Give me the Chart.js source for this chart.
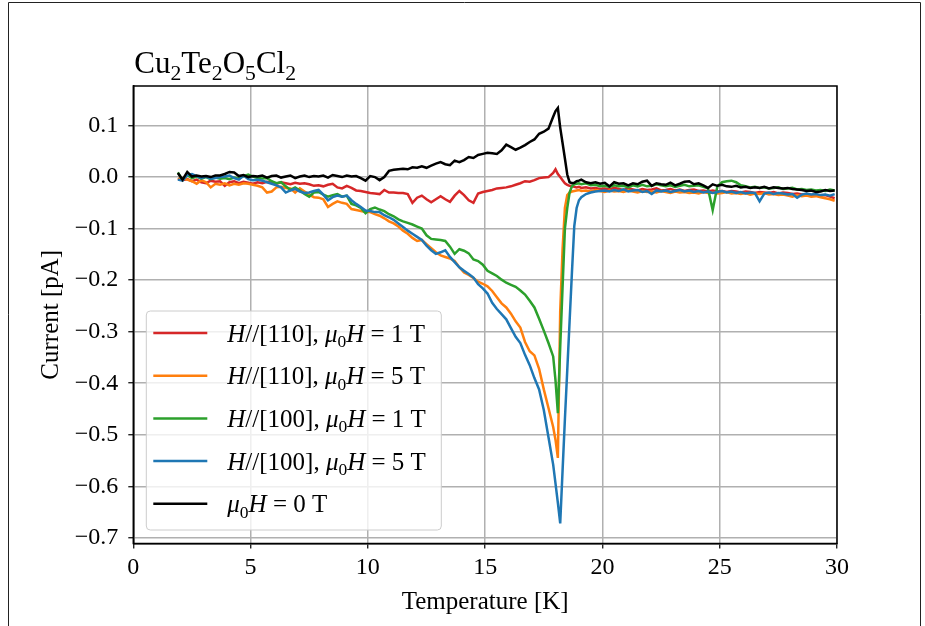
<!DOCTYPE html>
<html>
<head>
<meta charset="utf-8">
<script src="https://cdn.jsdelivr.net/npm/chart.js@4.4.1/dist/chart.umd.min.js"></script>
<style>
  html, body { margin: 0; padding: 0; background: #ffffff; }
  #wrap { position: relative; width: 925px; height: 626px; }
  canvas { display: block; }
</style>
</head>
<body>
<div id="wrap"><canvas id="chart" width="925" height="626"></canvas></div>
<script>
// Temperature grid of the pyrocurrent sweeps [K] (denser around the 18 K transition)
const temperatures = [
  1.9, 2.1, 2.3, 2.5, 2.7, 2.9, 3.1, 3.3, 3.5, 3.7,
  3.9, 4.1, 4.3, 4.5, 4.7, 4.9, 5.1, 5.3, 5.5, 5.7,
  5.9, 6.1, 6.3, 6.5, 6.7, 6.9, 7.1, 7.3, 7.5, 7.7,
  7.9, 8.1, 8.3, 8.5, 8.7, 8.9, 9.1, 9.3, 9.5, 9.7,
  9.9, 10.1, 10.3, 10.5, 10.7, 10.9, 11.1, 11.3, 11.5, 11.7,
  11.9, 12.1, 12.3, 12.5, 12.7, 12.9, 13.1, 13.3, 13.5, 13.7,
  13.9, 14.1, 14.3, 14.5, 14.7, 14.9, 15.1, 15.3, 15.5, 15.7,
  15.9, 16.1, 16.3, 16.5, 16.7, 16.9, 17.1, 17.3, 17.5, 17.7,
  17.9, 18.0, 18.1, 18.2, 18.3, 18.4, 18.5, 18.6, 18.7, 18.8,
  18.9, 19.0, 19.1, 19.3, 19.5, 19.7, 19.9, 20.1, 20.3, 20.5,
  20.7, 20.9, 21.1, 21.3, 21.5, 21.7, 21.9, 22.1, 22.3, 22.5,
  22.7, 22.9, 23.1, 23.3, 23.5, 23.7, 23.9, 24.1, 24.3, 24.5,
  24.7, 24.9, 25.1, 25.3, 25.5, 25.7, 25.9, 26.1, 26.3, 26.5,
  26.7, 26.9, 27.1, 27.3, 27.5, 27.7, 27.9, 28.1, 28.3, 28.5,
  28.7, 28.9, 29.1, 29.3, 29.5, 29.7, 29.9
];

// Current [pA], H // [110], 1 T
const currentH110_1T = [
  -0.003, -0.006, -0.004, -0.008, -0.005, -0.010, -0.012, -0.007, -0.009, -0.008,
  -0.017, -0.010, -0.008, -0.012, -0.009, -0.011, -0.013, -0.010, -0.012, -0.009,
  -0.011, -0.013, -0.010, -0.012, -0.014, -0.011, -0.013, -0.012, -0.014, -0.017,
  -0.016, -0.018, -0.015, -0.013, -0.020, -0.022, -0.017, -0.021, -0.026, -0.027,
  -0.029, -0.031, -0.032, -0.033, -0.025, -0.030, -0.030, -0.031, -0.031, -0.033,
  -0.050, -0.040, -0.036, -0.043, -0.049, -0.043, -0.037, -0.043, -0.048, -0.036,
  -0.027, -0.035, -0.045, -0.050, -0.032, -0.029, -0.027, -0.025, -0.022, -0.021,
  -0.020, -0.018, -0.015, -0.012, -0.008, -0.009, -0.006, -0.002, -0.001, 0.000,
  0.008, 0.015, 0.006, 0.000, -0.006, -0.012, -0.015, -0.017, -0.018, -0.019,
  -0.020, -0.019, -0.021, -0.020, -0.022, -0.021, -0.023, -0.022, -0.024, -0.021,
  -0.023, -0.025, -0.022, -0.024, -0.026, -0.023, -0.025, -0.024, -0.022, -0.026,
  -0.025, -0.023, -0.026, -0.024, -0.027, -0.025, -0.024, -0.027, -0.026, -0.028,
  -0.026, -0.028, -0.027, -0.029, -0.027, -0.028, -0.030, -0.028, -0.029, -0.031,
  -0.029, -0.030, -0.031, -0.029, -0.032, -0.030, -0.031, -0.033, -0.032, -0.034,
  -0.033, -0.035, -0.034, -0.036, -0.035, -0.038, -0.041
];

// Current [pA], H // [110], 5 T
const currentH110_5T = [
  -0.004, -0.002, -0.005, -0.008, -0.013, -0.006, -0.010, -0.020, -0.013, -0.015,
  -0.012, -0.016, -0.013, -0.015, -0.012, -0.013, -0.015, -0.017, -0.020, -0.030,
  -0.028, -0.020, -0.019, -0.021, -0.022, -0.030, -0.022, -0.028, -0.034, -0.039,
  -0.040, -0.043, -0.058, -0.052, -0.047, -0.050, -0.052, -0.062, -0.064, -0.066,
  -0.068, -0.068, -0.072, -0.075, -0.080, -0.086, -0.090, -0.096, -0.104, -0.110,
  -0.118, -0.124, -0.122, -0.130, -0.138, -0.146, -0.152, -0.155, -0.158, -0.163,
  -0.175, -0.185, -0.190, -0.196, -0.203, -0.207, -0.212, -0.221, -0.233, -0.245,
  -0.253, -0.265, -0.280, -0.292, -0.320, -0.338, -0.346, -0.372, -0.412, -0.448,
  -0.485, -0.510, -0.545, -0.260, -0.140, -0.060, -0.035, -0.030, -0.028, -0.027,
  -0.026, -0.025, -0.027, -0.026, -0.028, -0.025, -0.027, -0.029, -0.026, -0.028,
  -0.027, -0.029, -0.026, -0.028, -0.030, -0.027, -0.029, -0.028, -0.030, -0.027,
  -0.029, -0.031, -0.028, -0.030, -0.029, -0.031, -0.030, -0.032, -0.029, -0.031,
  -0.030, -0.032, -0.031, -0.029, -0.032, -0.031, -0.033, -0.031, -0.034, -0.032,
  -0.033, -0.031, -0.034, -0.033, -0.035, -0.034, -0.036, -0.038, -0.035, -0.037,
  -0.036, -0.038, -0.037, -0.039, -0.041, -0.043, -0.046
];

// Current [pA], H // [100], 1 T
const currentH100_1T = [
  0.009, -0.006, 0.004, -0.002, 0.001, -0.003, 0.000, -0.004, -0.001, -0.003,
  -0.002, -0.004, -0.001, -0.003, 0.002, 0.005, 0.001, -0.002, -0.003, -0.002,
  -0.008, -0.012, -0.010, -0.018, -0.025, -0.020, -0.026, -0.033, -0.038, -0.030,
  -0.029, -0.034, -0.038, -0.035, -0.033, -0.038, -0.036, -0.052, -0.055, -0.060,
  -0.070, -0.062, -0.059, -0.063, -0.066, -0.072, -0.076, -0.082, -0.086, -0.089,
  -0.092, -0.096, -0.100, -0.113, -0.120, -0.121, -0.122, -0.124, -0.135, -0.149,
  -0.140, -0.143, -0.148, -0.160, -0.163, -0.170, -0.182, -0.187, -0.192, -0.199,
  -0.205, -0.209, -0.213, -0.220, -0.228, -0.240, -0.253, -0.275, -0.298, -0.322,
  -0.348, -0.395, -0.458, -0.330, -0.214, -0.100, -0.060, -0.030, -0.018, -0.014,
  -0.013, -0.012, -0.014, -0.012, -0.016, -0.015, -0.018, -0.017, -0.019, -0.016,
  -0.018, -0.017, -0.020, -0.016, -0.018, -0.015, -0.018, -0.017, -0.014, -0.016,
  -0.018, -0.016, -0.019, -0.017, -0.015, -0.018, -0.017, -0.016, -0.019, -0.022,
  -0.064, -0.018, -0.010, -0.008, -0.007, -0.010, -0.016, -0.018, -0.020, -0.019,
  -0.021, -0.020, -0.022, -0.021, -0.020, -0.023, -0.022, -0.021, -0.024, -0.023,
  -0.025, -0.024, -0.026, -0.025, -0.027, -0.024, -0.026
];

// Current [pA], H // [100], 5 T
const currentH100_5T = [
  -0.005, -0.007, 0.004, 0.006, 0.002, -0.002, 0.001, -0.003, -0.002, 0.000,
  0.001, 0.003, -0.002, -0.005, 0.003, -0.004, -0.006, -0.005, -0.007, -0.010,
  -0.013, -0.016, -0.020, -0.030, -0.026, -0.023, -0.028, -0.031, -0.030, -0.027,
  -0.025, -0.034, -0.045, -0.039, -0.036, -0.038, -0.036, -0.045, -0.052, -0.058,
  -0.065, -0.066, -0.068, -0.068, -0.074, -0.078, -0.083, -0.090, -0.097, -0.104,
  -0.110, -0.116, -0.122, -0.133, -0.142, -0.149, -0.146, -0.142, -0.155, -0.165,
  -0.175, -0.182, -0.188, -0.195, -0.208, -0.216, -0.226, -0.244, -0.256, -0.266,
  -0.276, -0.293, -0.310, -0.322, -0.345, -0.365, -0.390, -0.412, -0.452, -0.505,
  -0.558, -0.595, -0.632, -0.672, -0.570, -0.470, -0.375, -0.280, -0.185, -0.095,
  -0.060, -0.045, -0.039, -0.033, -0.030, -0.028, -0.027, -0.026, -0.028, -0.025,
  -0.027, -0.024, -0.028, -0.026, -0.025, -0.029, -0.027, -0.033, -0.026, -0.028,
  -0.026, -0.029, -0.027, -0.025, -0.028, -0.026, -0.029, -0.027, -0.030, -0.028,
  -0.031, -0.029, -0.027, -0.030, -0.028, -0.031, -0.029, -0.032, -0.030, -0.031,
  -0.047, -0.032, -0.030, -0.033, -0.031, -0.032, -0.034, -0.033, -0.040, -0.034,
  -0.032, -0.034, -0.033, -0.035, -0.034, -0.036, -0.033
];

// Current [pA], zero field
const currentZeroField = [
  0.008, -0.005, 0.010, 0.001, 0.003, 0.001, 0.002, 0.000, 0.003, 0.003,
  0.006, 0.010, 0.009, 0.002, 0.004, 0.000, 0.002, 0.001, 0.003, -0.001,
  0.002, 0.003, -0.001, 0.001, 0.003, -0.002, 0.001, 0.003, 0.000, 0.002,
  0.001, 0.003, -0.001, 0.004, 0.002, 0.000, 0.003, 0.001, 0.002, -0.002,
  -0.007, 0.002, 0.000, -0.006, 0.000, 0.012, 0.014, 0.015, 0.016, 0.015,
  0.019, 0.018, 0.021, 0.018, 0.022, 0.026, 0.029, 0.025, 0.023, 0.032,
  0.029, 0.033, 0.039, 0.037, 0.043, 0.045, 0.047, 0.046, 0.045, 0.052,
  0.063, 0.058, 0.053, 0.057, 0.062, 0.068, 0.073, 0.084, 0.088, 0.094,
  0.117, 0.128, 0.134, 0.096, 0.066, 0.036, 0.005, -0.010, -0.012, -0.011,
  -0.008, -0.007, -0.005, -0.010, -0.012, -0.010, -0.013, -0.011, -0.018, -0.010,
  -0.013, -0.012, -0.016, -0.012, -0.014, -0.009, -0.007, -0.017, -0.012, -0.014,
  -0.015, -0.011, -0.016, -0.013, -0.009, -0.008, -0.014, -0.012, -0.016, -0.021,
  -0.014, -0.017, -0.015, -0.018, -0.019, -0.017, -0.020, -0.019, -0.021, -0.020,
  -0.021, -0.019, -0.022, -0.020, -0.021, -0.022, -0.021, -0.023, -0.024, -0.025,
  -0.027, -0.026, -0.029, -0.028, -0.025, -0.027, -0.026
];

// Legend entries: *...* = italic, _x = subscript
const seriesLabels = [
  '*H*//[110], *\u03bc*_0*H* = 1 T',
  '*H*//[110], *\u03bc*_0*H* = 5 T',
  '*H*//[100], *\u03bc*_0*H* = 1 T',
  '*H*//[100], *\u03bc*_0*H* = 5 T',
  '*\u03bc*_0*H* = 0 T'
];
const seriesColors = ['#d62728', '#ff7f0e', '#2ca02c', '#1f77b4', '#000000'];
const seriesValues = [currentH110_1T, currentH110_5T, currentH100_1T, currentH100_5T, currentZeroField];

const xTicks = [0, 5, 10, 15, 20, 25, 30];
const yTicks = [-0.7, -0.6, -0.5, -0.4, -0.3, -0.2, -0.1, 0.0, 0.1];

const chartTitle = 'Cu_2Te_2O_5Cl_2';
const xTitle = 'Temperature [K]';
const yTitle = 'Current [pA]';

const SERIF = "'Liberation Serif', 'DejaVu Serif', serif";

function parseRich(str) {
  const parts = [];
  let italic = false;
  let buf = '';
  const flush = () => { if (buf) { parts.push({ t: buf, it: italic, sub: false }); buf = ''; } };
  for (let i = 0; i < str.length; i++) {
    const c = str[i];
    if (c === '*') { flush(); italic = !italic; }
    else if (c === '_') { flush(); parts.push({ t: str[i + 1], it: false, sub: true }); i++; }
    else buf += c;
  }
  flush();
  return parts;
}

function drawRich(ctx, str, x, y, size, align) {
  const parts = parseRich(str);
  const fontOf = p => (p.it ? 'italic ' : '') + (p.sub ? size * 0.7 : size) + 'px ' + SERIF;
  let w = 0;
  parts.forEach(p => { ctx.font = fontOf(p); p.w = ctx.measureText(p.t).width; w += p.w; });
  let cx = align === 'center' ? x - w / 2 : x;
  ctx.textAlign = 'left';
  ctx.textBaseline = 'alphabetic';
  parts.forEach(p => {
    ctx.font = fontOf(p);
    ctx.fillText(p.t, cx, y + (p.sub ? size * 0.22 : 0));
    cx += p.w;
  });
}

function roundRect(ctx, x, y, w, h, r) {
  ctx.beginPath();
  ctx.moveTo(x + r, y);
  ctx.lineTo(x + w - r, y);
  ctx.arcTo(x + w, y, x + w, y + r, r);
  ctx.lineTo(x + w, y + h - r);
  ctx.arcTo(x + w, y + h, x + w - r, y + h, r);
  ctx.lineTo(x + r, y + h);
  ctx.arcTo(x, y + h, x, y + h - r, r);
  ctx.lineTo(x, y + r);
  ctx.arcTo(x, y, x + r, y, r);
  ctx.closePath();
}

const decorations = {
  id: 'decorations',
  afterDatasetsDraw(chart) {
    const { ctx, chartArea: a } = chart;
    ctx.save();
    ctx.strokeStyle = '#000';
    ctx.lineWidth = 1.5;
    ctx.strokeRect(a.left, a.top, a.right - a.left, a.bottom - a.top);
    ctx.restore();
  },
  afterDraw(chart) {
    const { ctx, chartArea: a } = chart;
    ctx.save();
    ctx.fillStyle = '#000';

    // title above the axes
    drawRich(ctx, chartTitle, a.left + 1, a.top - 13, 31, 'left');

    // axis titles
    drawRich(ctx, xTitle, (a.left + a.right) / 2, 609, 25, 'center');
    ctx.save();
    ctx.translate(58, (a.top + a.bottom) / 2);
    ctx.rotate(-Math.PI / 2);
    drawRich(ctx, yTitle, 0, 0, 25, 'center');
    ctx.restore();

    // legend box, lower left
    const bx = a.left + 13, bw = 295, bh = 219;
    const by = a.bottom - 13.5 - bh;
    roundRect(ctx, bx, by, bw, bh, 4);
    ctx.fillStyle = 'rgba(255,255,255,0.8)';
    ctx.fill();
    ctx.strokeStyle = '#cccccc';
    ctx.lineWidth = 1;
    ctx.stroke();
    seriesLabels.forEach((lab, i) => {
      const cy = by + 22 + i * 42.7;
      ctx.beginPath();
      ctx.moveTo(bx + 7, cy);
      ctx.lineTo(bx + 61, cy);
      ctx.strokeStyle = seriesColors[i];
      ctx.lineWidth = 2.5;
      ctx.stroke();
      ctx.fillStyle = '#000';
      drawRich(ctx, lab, bx + 81, cy + 8.5, 25, 'left');
    });

    // outer frame of the figure
    ctx.strokeStyle = '#222';
    ctx.lineWidth = 1;
    ctx.beginPath();
    ctx.moveTo(8.5, 640);
    ctx.lineTo(8.5, 2.5);
    ctx.lineTo(920.5, 2.5);
    ctx.lineTo(920.5, 640);
    ctx.stroke();
    ctx.restore();
  }
};

const datasets = seriesValues.map((vals, i) => ({
  label: seriesLabels[i].replace(/[*_]/g, ''),
  data: temperatures.map((t, k) => ({ x: t, y: vals[k] })),
  borderColor: seriesColors[i],
  backgroundColor: seriesColors[i],
  borderWidth: 2.5,
  pointRadius: 0,
  tension: 0,
  fill: false,
  order: seriesValues.length - i
}));

const tickFont = { family: SERIF, size: 24 };

new Chart(document.getElementById('chart'), {
  type: 'line',
  data: { datasets },
  options: {
    responsive: false,
    animation: false,
    devicePixelRatio: 1,
    layout: { padding: { left: 0, right: 88, top: 86, bottom: 0 } },
    plugins: { legend: { display: false }, tooltip: { enabled: false }, title: { display: false } },
    scales: {
      x: {
        type: 'linear',
        min: 0,
        max: 30,
        afterBuildTicks: s => { s.ticks = xTicks.map(v => ({ value: v })); },
        afterFit: s => { s.height = 82.5; },
        ticks: { font: tickFont, color: '#000', padding: 5, maxRotation: 0, autoSkip: false, callback: v => String(v) },
        grid: { color: '#b0b0b0', lineWidth: 1.5, tickColor: '#000', tickLength: 5, tickWidth: 1.2 },
        border: { color: '#000', width: 1.5 }
      },
      y: {
        type: 'linear',
        min: -0.711,
        max: 0.1767,
        afterBuildTicks: s => { s.ticks = yTicks.map(v => ({ value: v })); },
        afterFit: s => { s.width = 133.3; },
        ticks: { font: tickFont, color: '#000', padding: 10, autoSkip: false,
                 callback: v => v.toFixed(1).replace('-', '\u2212') },
        grid: { color: '#b0b0b0', lineWidth: 1.5, tickColor: '#000', tickLength: 5, tickWidth: 1.2 },
        border: { color: '#000', width: 1.5 }
      }
    }
  },
  plugins: [decorations]
});
</script>
</body>
</html>
